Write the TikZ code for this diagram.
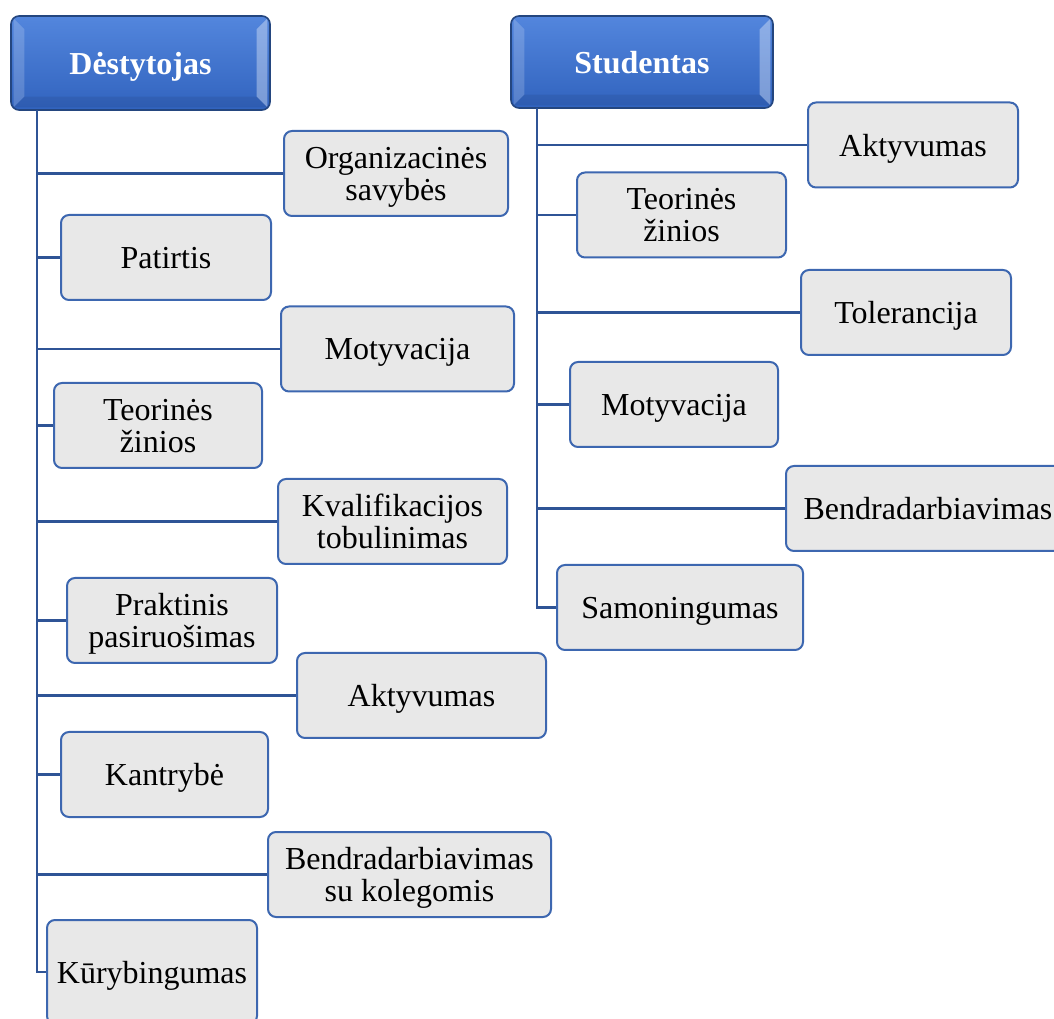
\documentclass[tikz,border=0pt]{standalone}
\usepackage{fontspec}
\setmainfont{Liberation Serif}
\usetikzlibrary{positioning}
\definecolor{headtop}{HTML}{5386DD}
\definecolor{headbot}{HTML}{3163BE}
\definecolor{headline}{HTML}{24467F}
\definecolor{itemfill}{HTML}{E8E8E8}
\definecolor{itemline}{HTML}{3D67B0}
\definecolor{connline}{HTML}{2F5496}

\begin{document}
\begin{tikzpicture}[x=0.75pt,y=-0.75pt,
    head/.style={draw=headline,line width=1.2pt,rounded corners=6pt,top color=headtop,
      bottom color=headbot,text=white,font=\fontsize{24}{24}\selectfont\bfseries,
      inner sep=0pt,text depth=0pt,
      path picture={
        \fill[sharp corners,white,opacity=.18] ([shift={(2pt,-2pt)}]path picture bounding box.north west)
          -- ([shift={(2pt,2pt)}]path picture bounding box.south west)
          -- ([shift={(10pt,10pt)}]path picture bounding box.south west)
          -- ([shift={(10pt,-10pt)}]path picture bounding box.north west) -- cycle;
        \fill[sharp corners,white,opacity=.35] ([shift={(-2pt,-2pt)}]path picture bounding box.north east)
          -- ([shift={(-2pt,2pt)}]path picture bounding box.south east)
          -- ([shift={(-10pt,10pt)}]path picture bounding box.south east)
          -- ([shift={(-10pt,-10pt)}]path picture bounding box.north east) -- cycle;
        \fill[sharp corners,black,opacity=.07] ([shift={(2pt,2pt)}]path picture bounding box.south west)
          -- ([shift={(-2pt,2pt)}]path picture bounding box.south east)
          -- ([shift={(-10pt,10pt)}]path picture bounding box.south east)
          -- ([shift={(10pt,10pt)}]path picture bounding box.south west) -- cycle;}},
    item/.style={draw=itemline,line width=1.5pt,rounded corners=6pt,fill=itemfill,
      font=\fontsize{24}{24}\selectfont,align=center,inner sep=0pt,text depth=0pt,
      minimum height=63.75pt},
    conn/.style={draw=connline,line width=1.9pt}]
    \path[use as bounding box,clip] (0,0) rectangle (1054,1019);

    \node(des)[head,minimum width=194.25pt,minimum height=70.5pt] at (140.5,63){Dėstytojas};
    \node(stu)[head,minimum width=196.5pt,minimum height=69pt] at (642,62){Studentas};
    \coordinate(des_spine) at (37,110);
    \coordinate(stu_spine) at (537,108);

    \node(d_org)[item,minimum width=168pt] at (396,173.5){Organizacinės\\savybės};
    \node(d_pat)[item,minimum width=157.5pt] at (166,257.5){Patirtis};
    \node(d_mot)[item,minimum width=174.75pt] at (397.5,349){Motyvacija};
    \node(d_teo)[item,minimum width=156pt] at (158,425.5){Teorinės\\žinios};
    \node(d_kval)[item,minimum width=171.75pt] at (392.5,521.5){Kvalifikacijos\\tobulinimas};
    \node(d_prak)[item,minimum width=157.5pt] at (172,620.5){Praktinis\\pasiruošimas};
    \node(d_akt)[item,minimum width=186.75pt] at (421.5,695.5){Aktyvumas};
    \node(d_kan)[item,minimum width=155.25pt] at (164.5,774.5){Kantrybė};
    \node(d_bend)[item,minimum width=212.25pt] at (409.5,874.5){Bendradarbiavimas\\su kolegomis};
    \node(d_kur)[item,minimum width=157.5pt,minimum height=78pt] at (152,972){Kūrybingumas};

    \node(s_akt)[item,minimum width=157.5pt] at (913,145){Aktyvumas};
    \node(s_teo)[item,minimum width=156.75pt] at (681.5,215){Teorinės\\žinios};
    \node(s_tol)[item,minimum width=157.5pt] at (906,312.5){Tolerancija};
    \node(s_mot)[item,minimum width=156pt] at (674,404.5){Motyvacija};
    \node(s_bend)[item,minimum width=213pt] at (928,508.5){Bendradarbiavimas};
    \node(s_sam)[item,minimum width=184.5pt] at (680,607.5){Samoningumas};

    \foreach \n in {d_org,d_pat,d_mot,d_teo,d_kval,d_prak,d_akt,d_kan,d_bend,d_kur}
      \draw[conn] (des_spine) |- (\n.west);
    \foreach \n in {s_akt,s_teo,s_tol,s_mot,s_bend,s_sam}
      \draw[conn] (stu_spine) |- (\n.west);
  \end{tikzpicture}
\end{document}
